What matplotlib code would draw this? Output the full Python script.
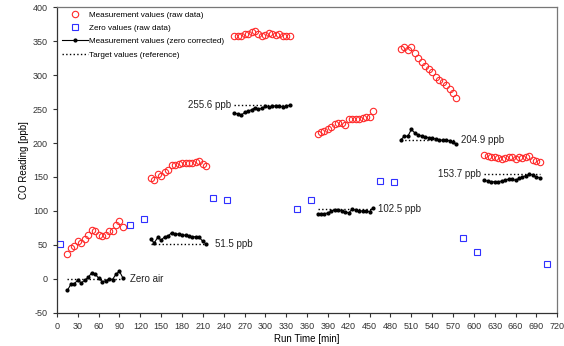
import numpy as np
import matplotlib
matplotlib.use('Agg')
import matplotlib.pyplot as plt

plt.rcParams['font.family'] = ['Liberation Sans', 'DejaVu Sans']
plt.rcParams['axes.unicode_minus'] = False

# start time of every measurement block [min], samples every 5 min
inicio_blocos = [15, 135, 255, 375, 495, 615]
passo = 5

# raw measurement values [ppb]
bruto = [
    [37, 46, 49, 56, 53, 59, 64, 72, 71, 65, 63, 65, 71, 70, 80, 85, 77],
    [148, 146, 155, 152, 158, 161, 168, 168, 169, 170, 171, 171, 170, 172, 173, 169, 166],
    [358, 357, 358, 360, 361, 363, 365, 360, 358, 359, 362, 361, 359, 360, 357, 358, 358],
    [214, 216, 218, 220, 224, 228, 229, 229, 226, 235, 235, 235, 236, 237, 238, 239, 247],
    [339, 341, 337, 341, 332, 326, 320, 314, 309, 304, 298, 293, 290, 286, 279, 273, 267],
    [182, 181, 180, 179, 178, 177, 178, 180, 179, 177, 179, 178, 179, 181, 175, 174, 172],
]

# zero corrected values [ppb]
corrigido = [
    [-17, -8, -7, -2, -6, -2, 2, 9, 7, 1, -4, -3, 0, -1, 7, 11, 1],
    [58, 53, 61, 57, 62, 63, 68, 66, 66, 65, 64, 63, 62, 62, 61, 55, 51],
    [244, 243, 241, 245, 247, 249, 252, 250, 251, 254, 253, 254, 255, 255, 253, 254, 256],
    [96, 96, 96, 97, 100, 101, 101, 100, 99, 97, 103, 101, 100, 100, 100, 99, 105],
    [205, 210, 210, 220, 215, 212, 210, 209, 208, 207, 206, 205, 204, 205, 203, 201, 198],
    [145, 144, 143, 143, 143, 144, 145, 147, 147, 145, 148, 150, 152, 154, 153, 150, 149],
]

# zero checks
tempo_zero = [5, 105, 125, 225, 245, 345, 365, 465, 485, 585, 605, 705]
valor_zero = [51, 79, 88, 119, 116, 103, 116, 144, 142, 60, 39, 22]

# reference values
referencia = [0, 51.5, 255.6, 102.5, 204.9, 153.7]
rotulos = ['Zero air', '51.5 ppb', '255.6 ppb', '102.5 ppb', '204.9 ppb', '153.7 ppb']
# label anchor: (time, side)
pos_rotulo = [(105, 'left'), (228, 'left'), (250, 'right'), (462, 'left'), (581, 'left'), (611, 'right')]

fig = plt.figure(figsize=(5.64, 3.46), dpi=100)
ax = fig.add_axes([0.101, 0.096, 0.887, 0.883])

for i, t0 in enumerate(inicio_blocos):
    t = t0 + passo * np.arange(len(bruto[i]))
    ax.plot(t, bruto[i], 'o', mfc='none', mec='#ff2a2a', ms=4.6, mew=0.8,
            label='Measurement values (raw data)' if i == 0 else None)
    ax.plot(t, corrigido[i], '-', color='black', lw=0.8, marker='o', ms=2.0,
            label='Measurement values (zero corrected)' if i == 0 else None)
    ax.plot([t[0], t[-1]], [referencia[i], referencia[i]], ':', color='black', lw=1.0,
            label='Target values (reference)' if i == 0 else None)
    xr, lado = pos_rotulo[i]
    ax.text(xr, referencia[i], rotulos[i], ha=lado, va='center', fontsize=7, color='#222222')

ax.plot(tempo_zero, valor_zero, 's', mfc='none', mec='#3030ff', ms=4.2, mew=0.8,
        label='Zero values (raw data)')

# legend order as in the original
h, l = ax.get_legend_handles_labels()
ordem = ['Measurement values (raw data)', 'Zero values (raw data)',
         'Measurement values (zero corrected)', 'Target values (reference)']
hh = [h[l.index(o)] for o in ordem]
ax.legend(hh, ordem, loc='upper left', frameon=False, fontsize=5.9, handlelength=3.2,
          handletextpad=0.1, labelspacing=0.68, borderaxespad=0, borderpad=0,
          bbox_to_anchor=(0.01, 0.988))

ax.set_xlim(0, 720)
ax.set_ylim(-50, 400)
ax.set_xticks(np.arange(0, 721, 30))
ax.set_yticks(np.arange(-50, 401, 50))
ax.tick_params(labelsize=6.5, length=3, width=0.8, direction='out', colors='#333333')
for s in ax.spines.values():
    s.set_color('#777777')
    s.set_linewidth(0.9)
ax.spines['left'].set_color('#333333')
ax.spines['bottom'].set_color('#333333')
ax.set_xlabel('Run Time [min]', fontsize=7, labelpad=2)
ax.set_ylabel('CO Reading [ppb]', fontsize=7, labelpad=3)

plt.savefig('out.png', dpi=100)
